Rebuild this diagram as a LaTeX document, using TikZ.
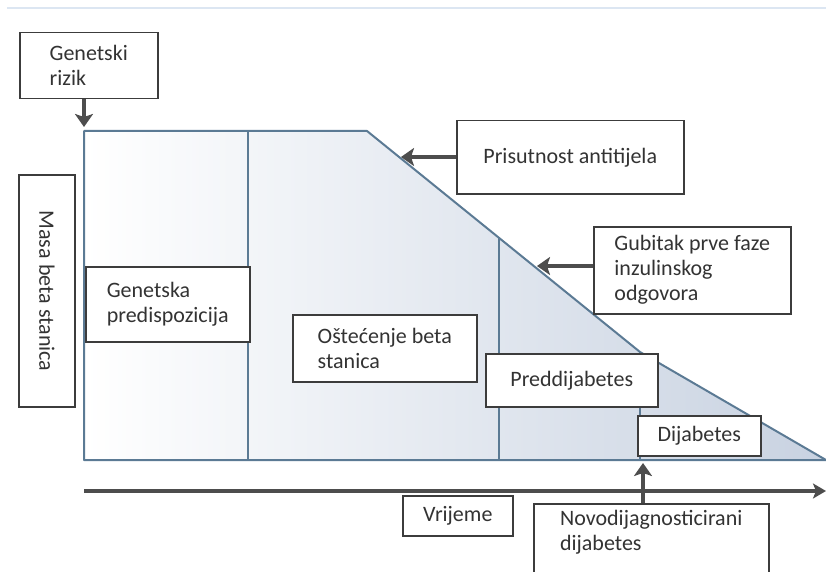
\documentclass[tikz,border=0pt]{standalone}
\usepackage{fontspec}
\setmainfont{Carlito}
\usetikzlibrary{arrows.meta}
\definecolor{edgeblue}{HTML}{5B7A94}
\definecolor{fillblue}{HTML}{C8D2E1}
\definecolor{boxgray}{HTML}{3C3C3C}
\definecolor{txtgray}{HTML}{333333}
\definecolor{arrowgray}{HTML}{4D4D4D}
\definecolor{rulecol}{HTML}{DCE6F2}
\tikzset{
	box/.style={draw=boxgray, line width=1.5pt, fill=white, text=txtgray, align=left,
		inner sep=0pt, anchor=north west, font=\fontsize{22}{25}\selectfont},
	pointer/.style={draw=arrowgray, line width=4pt, -{Stealth[length=13pt,width=18pt,inset=3pt]}},
	phase/.style={draw=edgeblue, line width=2pt},
}
\begin{document}
\begin{tikzpicture}[x=1pt,y=-1pt]
	\useasboundingbox (0,0) rectangle (826,572);
	\draw[rulecol, line width=1.5pt] (7,8) -- (826,8);

	% beta cell mass
	\coordinate (tl) at (84,131);
	\coordinate (tr) at (367,131);
	\coordinate (kink) at (640,352);
	\coordinate (br) at (826,460);
	\coordinate (bl) at (84,460);
	\shade[left color=white, right color=fillblue] (tl) -- (tr) -- (kink) -- (br) -- (bl) -- cycle;
	\draw[phase, line join=round] (tl) -- (tr) -- (kink) -- (br) -- (bl) -- cycle;
	\draw[phase] (248,131) -- (248,460);
	\draw[phase, line width=1.2pt] (499,238) -- (499,460);
	\draw[phase, line width=1.2pt] (kink) -- (kink |- bl);

	% time axis
	\coordinate (t end) at (826,491);
	\draw[draw=arrowgray, line width=3.5pt, -{Stealth[length=13pt,width=15pt,inset=3pt]}] (84,491) -- (t end);

	% labels
	\node[box, minimum width=138, minimum height=66] (rizik) at (19,32) {Genetski\\rizik};
	\node[box, rotate=-90, anchor=center, minimum width=232, minimum height=56] (masa) at (47,291) {Masa beta stanica};
	\node[box, minimum width=164, minimum height=75] (predisp) at (85,266) {Genetska\\predispozicija};
	\node[box, minimum width=227, minimum height=73] (anti) at (456,120) {Prisutnost antitijela};
	\node[box, minimum width=197, minimum height=87] (gubitak) at (593,226) {Gubitak prve faze\\inzulinskog\\odgovora};
	\node[box, minimum width=184, minimum height=67] (ostecenje) at (292,314) {Oštećenje beta\\stanica};
	\node[box, minimum width=172, minimum height=53] (pred) at (485,353) {Preddijabetes};
	\node[box, minimum width=123, minimum height=40] (dija) at (637,415) {Dijabetes};
	\node[box, minimum width=110, minimum height=40] (vrijeme) at (402,495) {Vrijeme};
	\node[box, minimum width=235, minimum height=90] (novo) at (533,503) {Novodijagnosticirani\\dijabetes\\[12pt]};

	% arrows
	\coordinate (anti tip) at (401,157);
	\coordinate (gub tip) at (537,266);
	\coordinate (novo tip) at (643,463);
	\draw[pointer] (rizik.south -| tl) -- ([yshift=4pt]tl);
	\draw[pointer] (anti.west |- anti tip) -- (anti tip);
	\draw[pointer] (gubitak.west |- gub tip) -- (gub tip);
	\draw[pointer, line width=3.5pt] (novo.north -| novo tip) -- (novo tip);
\end{tikzpicture}
\end{document}
